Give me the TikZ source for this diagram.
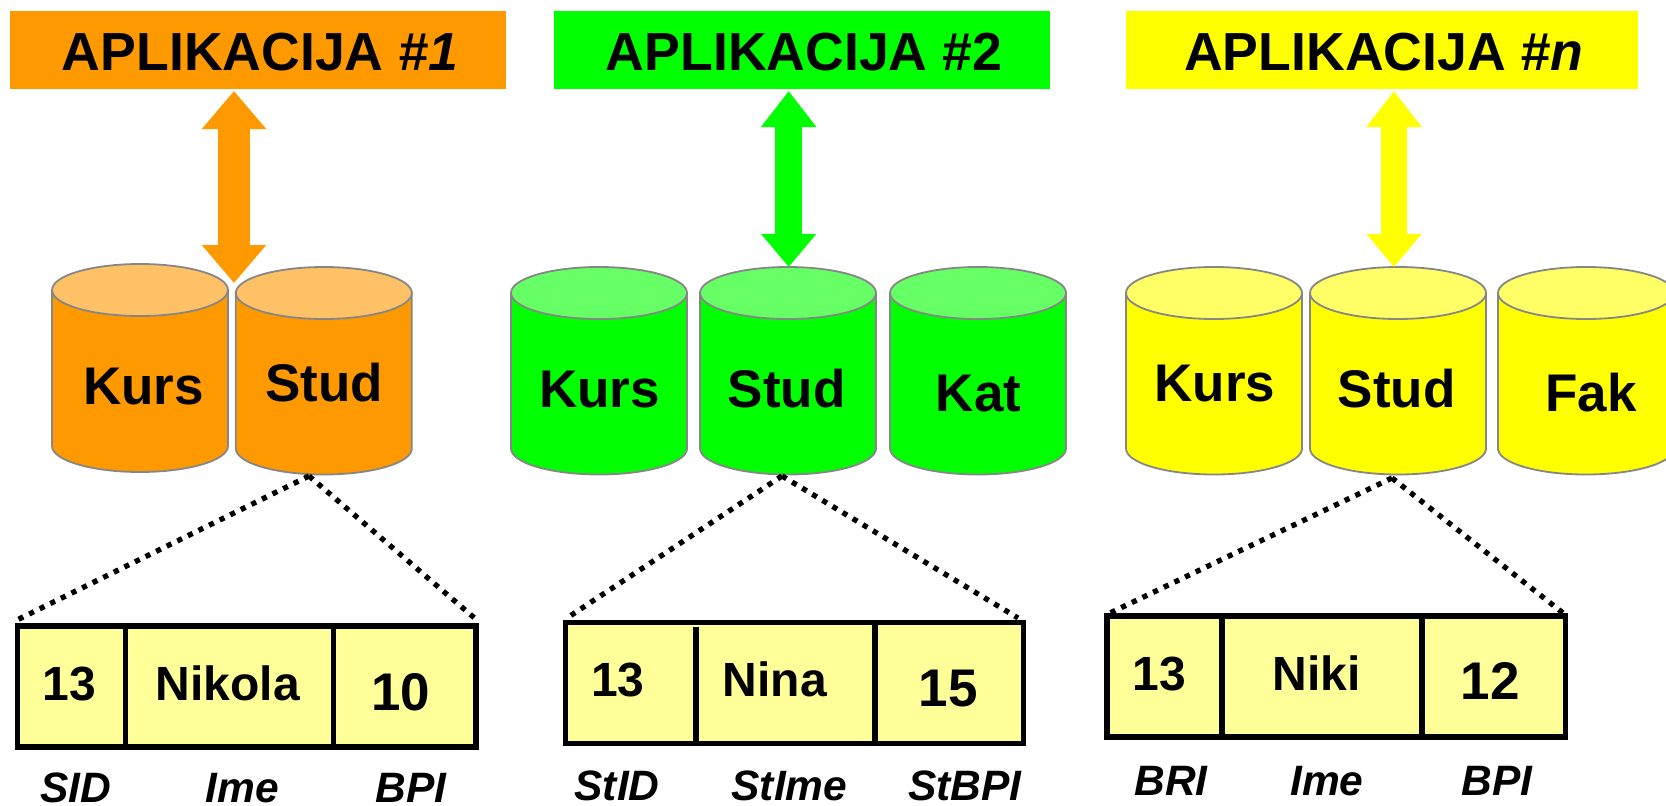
\documentclass[tikz,border=0pt]{standalone}
\usepackage{fontspec}
\setmainfont{Liberation Sans}
\usetikzlibrary{arrows.meta}
\definecolor{cOrange}{HTML}{FF9900}
\definecolor{cOrangeT}{HTML}{FFC166}
\definecolor{cGreen}{HTML}{00FF00}
\definecolor{cGreenT}{HTML}{66FF66}
\definecolor{cYellow}{HTML}{FFFF00}
\definecolor{cYellowT}{HTML}{FFFF66}
\definecolor{cCell}{HTML}{FFFF99}
\definecolor{cEdge}{HTML}{868686}
\tikzset{
  titlebox/.style={rectangle,inner sep=0pt,outer sep=0pt,minimum height=78pt},
  titletext/.style={anchor=base,inner sep=0pt,font=\bfseries\fontsize{53.6}{60}\selectfont},
  dbtext/.style={anchor=base,inner sep=0pt,font=\bfseries\fontsize{53}{60}\selectfont},
  celltext/.style={anchor=base,inner sep=0pt,font=\bfseries\fontsize{48}{54}\selectfont},
  numtext/.style={anchor=base,inner sep=0pt,font=\bfseries\fontsize{53}{58}\selectfont},
  fieldtext/.style={anchor=base,inner sep=0pt,font=\bfseries\itshape\fontsize{42.5}{50}\selectfont},
  cylline/.style={draw=cEdge,line width=1.8pt},
  tablebox/.style={rectangle,draw=black,line width=5.5pt,fill=cCell,inner sep=0pt,outer sep=0pt,minimum height=121pt},
  tablediv/.style={draw=black,line width=5.5pt},
  zoomline/.style={draw=black,line width=5.3pt,dash pattern=on 5.2pt off 6.6pt}
}
% name, cx, y of top-ellipse centre, y of bottom-arc centre, rx, body, top
\newcommand{\dbcyl}[7]{%
  \draw[cylline,fill=#6] ({#2-#5},#3) -- ({#2-#5},#4) arc[start angle=180,end angle=360,x radius=#5pt,y radius=26pt] -- ({#2+#5},#3) -- cycle;
  \draw[cylline,fill=#7] (#2,#3) ellipse[x radius=#5pt,y radius=26pt];
}
\begin{document}
\begin{tikzpicture}[x=1pt,y=-1pt]
\useasboundingbox (0,0) rectangle (1666,806);
\clip (0,0) rectangle (1666,806);
% title bars
\node[titlebox,fill=cOrange,minimum width=496pt] (app1) at (258,50) {};
\node[titlebox,fill=cGreen,minimum width=496pt] (app2) at (802,50) {};
\node[titlebox,fill=cYellow,minimum width=512pt] (appn) at (1382,50) {};
\node[titletext] (app1t) at (260,70) {APLIKACIJA \textit{\#1}};
\node[titletext] (app2t) at (804,70) {APLIKACIJA \#2};
\node[titletext] (appnt) at (1383.8,70) {APLIKACIJA \textit{\#n}};
% cylinders
\dbcyl{k1}{140}{290}{446}{88}{cOrange}{cOrangeT}
\dbcyl{s1}{323.8}{293}{448.5}{88}{cOrange}{cOrangeT}
\dbcyl{k2}{599}{293}{448.5}{88}{cGreen}{cGreenT}
\dbcyl{s2}{788}{293}{448.5}{88}{cGreen}{cGreenT}
\dbcyl{c2}{978}{293}{448.5}{88}{cGreen}{cGreenT}
\dbcyl{k3}{1214}{293}{448.5}{88}{cYellow}{cYellowT}
\dbcyl{s3}{1398}{293}{448.5}{88}{cYellow}{cYellowT}
\dbcyl{f3}{1586}{293}{448.5}{88}{cYellow}{cYellowT}
\node[dbtext] (k1t) at (143.7,404) {Kurs};
\node[dbtext] (s1t) at (324,401.7) {Stud};
\node[dbtext] (k2t) at (599.4,407) {Kurs};
\node[dbtext] (s2t) at (786.6,407) {Stud};
\node[dbtext] (c2t) at (978.5,411.7) {Kat};
\node[dbtext] (k3t) at (1215,401.7) {Kurs};
\node[dbtext] (s3t) at (1396.6,407) {Stud};
\node[dbtext] (f3t) at (1590.8,411.7) {Fak};
% double arrows
\coordinate (a1u) at (234,91); \coordinate (a1d) at (234,283);
\coordinate (a2u) at (788.7,91); \coordinate (a2d) at (788.7,267);
\coordinate (a3u) at (1394,91); \coordinate (a3d) at (1394,267);
\draw[line width=32pt,draw=cOrange,{Triangle[length=38pt,width=62pt,fill=cOrange]}-{Triangle[length=38pt,width=62pt,fill=cOrange]}] (a1u) -- (a1d);
\draw[line width=27pt,draw=cGreen,{Triangle[length=36pt,width=53pt,fill=cGreen]}-{Triangle[length=33pt,width=53pt,fill=cGreen]}] (a2u) -- (a2d);
\draw[line width=26pt,draw=cYellow,{Triangle[length=36pt,width=53pt,fill=cYellow]}-{Triangle[length=33pt,width=53pt,fill=cYellow]}] (a3u) -- (a3d);
% tables
\node[tablebox,minimum width=458.6pt] (t1) at (246.8,686.7) {};
\node[tablebox,minimum width=457.8pt] (t2) at (794.35,683) {};
\node[tablebox,minimum width=458.2pt] (t3) at (1336.15,676.7) {};
\coordinate (t1p) at (125.4,0); \coordinate (t1q) at (333.6,0);
\coordinate (t2p) at (696,627); \coordinate (t2q) at (875,0);
\coordinate (t3p) at (1222,0); \coordinate (t3q) at (1422,0);
\draw[tablediv] (t1.north -| t1p) -- (t1.south -| t1p);
\draw[tablediv] (t1.north -| t1q) -- (t1.south -| t1q);
\draw[tablediv] (t2p) -- (t2.south -| t2p);
\draw[tablediv] (t2.north -| t2q) -- (t2.south -| t2q);
\draw[tablediv] (t3.north -| t3p) -- (t3.south -| t3p);
\draw[tablediv] (t3.north -| t3q) -- (t3.south -| t3q);
% zoom lines
\coordinate (z1) at (309,476); \coordinate (z2) at (782,476); \coordinate (z3) at (1392,478);
\coordinate (z1l) at (15,621); \coordinate (z1r) at (478,621);
\coordinate (z2l) at (567,618); \coordinate (z2r) at (1018,618);
\coordinate (z3l) at (1110,613); \coordinate (z3r) at (1563,613);
\draw[zoomline] (z1) -- (z1l);
\draw[zoomline] (z1) -- (z1r);
\draw[zoomline] (z2) -- (z2l);
\draw[zoomline] (z2) -- (z2r);
\draw[zoomline] (z3) -- (z3l);
\draw[zoomline] (z3) -- (z3r);
% cell texts
\node[celltext] (t1a) at (69.6,700) {13};
\node[celltext] (t1b) at (228,700) {Nikola};
\node[numtext] (t1c) at (400.7,710) {10};
\node[celltext] (t2a) at (618,696) {13};
\node[celltext] (t2b) at (775,696) {Nina};
\node[numtext] (t2c) at (948,706) {15};
\node[celltext] (t3a) at (1159,690) {13};
\node[celltext] (t3b) at (1317,690) {Niki};
\node[numtext] (t3c) at (1490,699) {12};
% field names
\node[fieldtext] (f1a) at (76,802) {SID};
\node[fieldtext] (f1b) at (242.5,802) {Ime};
\node[fieldtext] (f1c) at (411,802) {BPI};
\node[fieldtext] (f2a) at (617,800) {StID};
\node[fieldtext] (f2b) at (789.5,800) {StIme};
\node[fieldtext] (f2c) at (965,800) {StBPI};
\node[fieldtext] (f3a) at (1171,795) {BRI};
\node[fieldtext] (f3b) at (1327,795) {Ime};
\node[fieldtext] (f3c) at (1497,795) {BPI};
\end{tikzpicture}
\end{document}
